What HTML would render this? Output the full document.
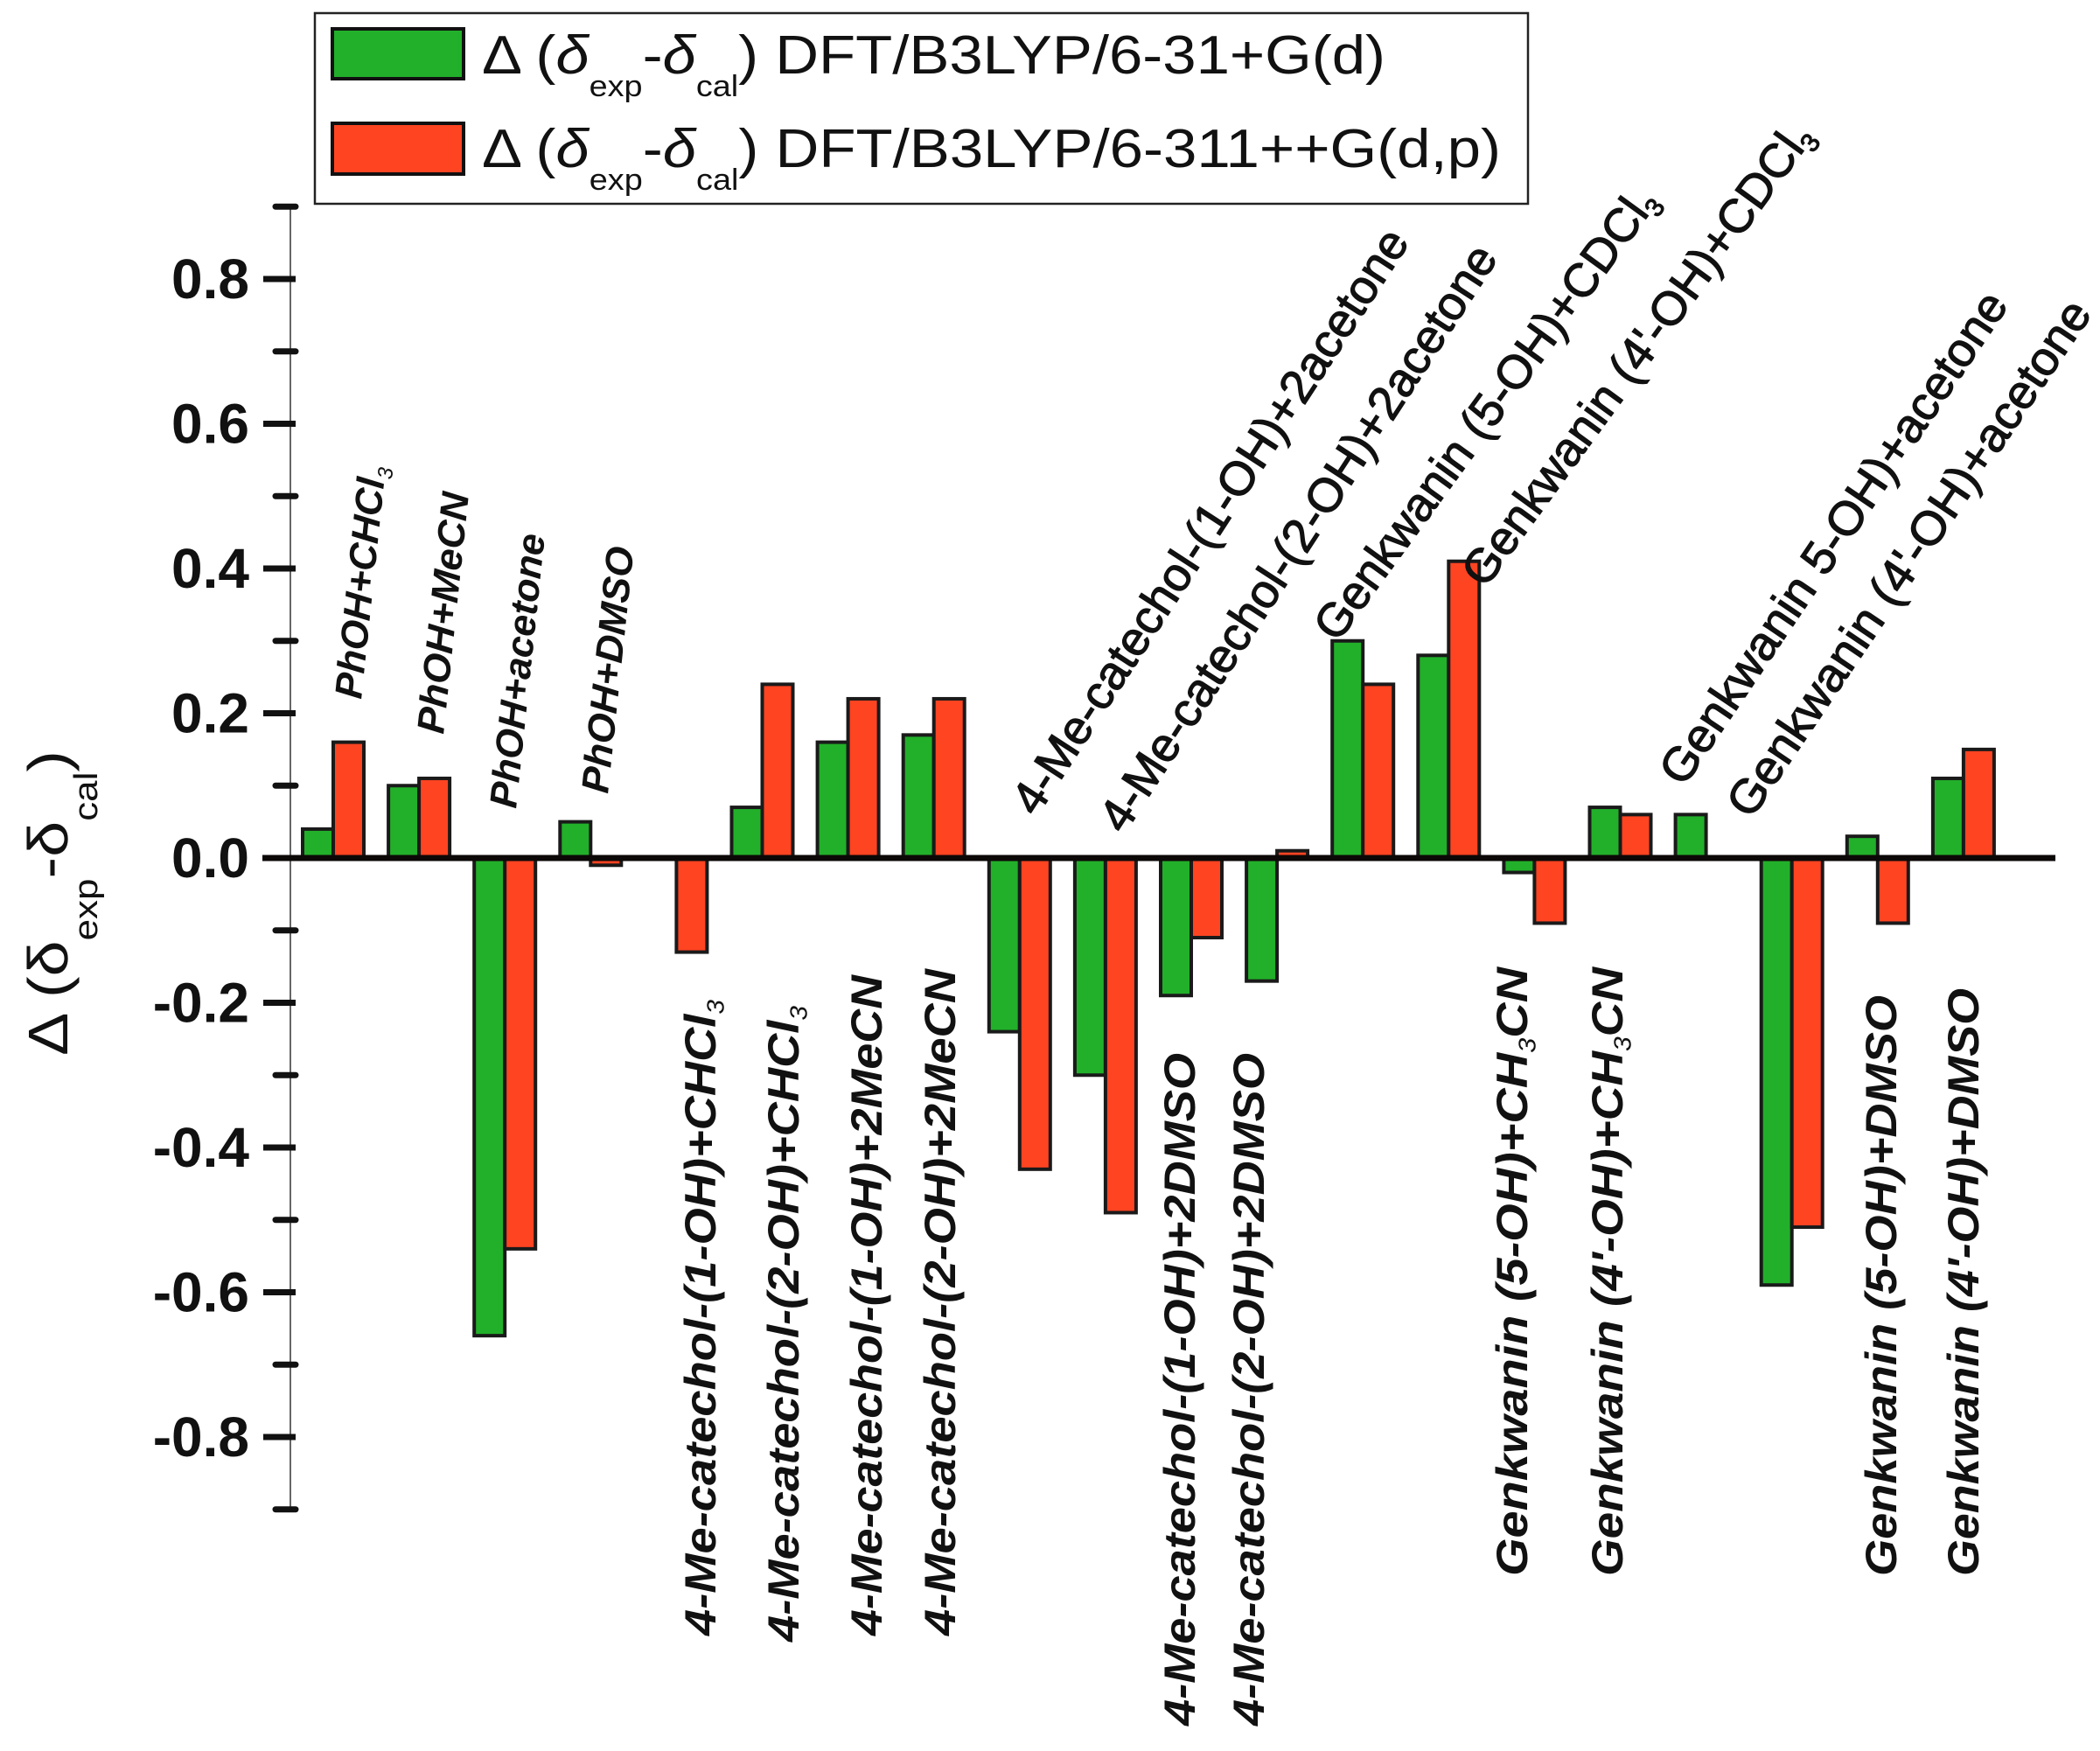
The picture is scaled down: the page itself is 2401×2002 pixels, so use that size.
<!DOCTYPE html>
<html><head><meta charset="utf-8">
<style>
html,body{margin:0;padding:0;background:#fff;}
svg{display:block;}
text{font-family:"Liberation Sans",Arial,sans-serif;}
</style></head>
<body>
<svg id="chart" width="2401" height="2002" viewBox="0 0 2401 2002" xmlns="http://www.w3.org/2000/svg">
  <g id="legend">
    <rect x="360" y="15" width="1387" height="218" fill="#fff" stroke="#222" stroke-width="2.5"/>
    <rect x="380" y="33" width="150" height="57" fill="#22b02a" stroke="#111" stroke-width="4"/>
    <rect x="380" y="141" width="150" height="58" fill="#ff4422" stroke="#111" stroke-width="4"/>
    <text x="551" y="84" font-size="62" fill="#111" textLength="1033" lengthAdjust="spacingAndGlyphs">Δ (<tspan font-style="italic">δ</tspan><tspan font-size="34" dy="26">exp</tspan><tspan dy="-26">-</tspan><tspan font-style="italic">δ</tspan><tspan font-size="34" dy="26">cal</tspan><tspan dy="-26">) DFT/B3LYP/6-31+G(d)</tspan></text>
    <text x="551" y="191" font-size="62" fill="#111" textLength="1165" lengthAdjust="spacingAndGlyphs">Δ (<tspan font-style="italic">δ</tspan><tspan font-size="34" dy="26">exp</tspan><tspan dy="-26">-</tspan><tspan font-style="italic">δ</tspan><tspan font-size="34" dy="26">cal</tspan><tspan dy="-26">) DFT/B3LYP/6-311++G(d,p)</tspan></text>
  </g>
  <text transform="translate(77,1207) rotate(-90)" font-size="64" fill="#111" textLength="349" lengthAdjust="spacingAndGlyphs">Δ (δ<tspan font-size="38" dy="34">exp</tspan><tspan dy="-34">-δ</tspan><tspan font-size="38" dy="34">cal</tspan><tspan dy="-34">)</tspan></text>
  <g id="axis"></g>
  <g id="bars"></g>
  <g id="labels"></g>
</svg>
<script>
// ---- data ----
const categories = [
  "PhOH+CHCl_3","PhOH+MeCN","PhOH+acetone","PhOH+DMSO",
  "4-Me-catechol-(1-OH)+CHCl_3","4-Me-catechol-(2-OH)+CHCl_3",
  "4-Me-catechol-(1-OH)+2MeCN","4-Me-catechol-(2-OH)+2MeCN",
  "4-Me-catechol-(1-OH)+2acetone","4-Me-catechol-(2-OH)+2acetone",
  "4-Me-catechol-(1-OH)+2DMSO","4-Me-catechol-(2-OH)+2DMSO",
  "Genkwanin (5-OH)+CDCl_3","Genkwanin (4'-OH)+CDCl_3",
  "Genkwanin (5-OH)+CH_3CN","Genkwanin (4'-OH)+CH_3CN",
  "Genkwanin 5-OH)+acetone","Genkwanin (4'-OH)+acetone",
  "Genkwanin (5-OH)+DMSO","Genkwanin (4'-OH)+DMSO"
];
const seriesB3lyp631 = [0.04,0.10,-0.66,0.05,0,0.07,0.16,0.17,-0.24,-0.30,-0.19,-0.17,0.30,0.28,-0.02,0.07,0.06,-0.59,0.03,0.11];
const seriesB3lyp6311 = [0.16,0.11,-0.54,-0.01,-0.13,0.24,0.22,0.22,-0.43,-0.49,-0.11,0.01,0.24,0.41,-0.09,0.06,0,-0.51,-0.09,0.15];
const majorTicks = [-0.8,-0.6,-0.4,-0.2,0.0,0.2,0.4,0.6,0.8];
const majorTickLabels = ["-0.8","-0.6","-0.4","-0.2","0.0","0.2","0.4","0.6","0.8"];
const minorTicks = [-0.9,-0.7,-0.5,-0.3,-0.1,0.1,0.3,0.5,0.7,0.9];

// ---- layout (not data) ----
const labelKind = ["top","top","top","top","bot","bot","bot","bot","ang","ang","bot","bot","ang","ang","bot","bot","ang","ang","bot","bot"];
const labelX = [413,507,590,695,818,913,1008,1092,1185,1285,1366,1445,1529,1698,1746,1855,1925,2002,2168,2262];
const labelY = [800,840,925,908,1870,1877,1870,1870,935,955,1973,1973,736,674,1802,1802,901,938,1802,1802];
const labelAngle = [-84,-84,-84,-84,-90,-90,-90,-90,-57,-57,-90,-90,-54,-54,-90,-90,-56,-56,-90,-90];
const labelLen = [267,277,315,283,727,727,755,762,785,787,769,769,625,640,696,696,666,699,664,672];

const NS="http://www.w3.org/2000/svg";
const zeroY=981, unitPx=827.5, firstCenter=381, groupStep=98.1, barW=35;
const yScale = v => zeroY - v*unitPx;
const xScale = i => firstCenter + i*groupStep;
function mk(tag, attrs, parent){const e=document.createElementNS(NS,tag);for(const k in attrs)e.setAttribute(k,attrs[k]);parent.appendChild(e);return e;}

const axis=document.getElementById('axis');
const al=mk('line',{x1:332,y1:yScale(0.9),x2:332,y2:yScale(-0.9),stroke:'#666','stroke-width':2},axis);


minorTicks.forEach(v=>{
  const t=mk('line',{x1:315,x2:338,y1:yScale(v),y2:yScale(v),stroke:'#111','stroke-width':7,'stroke-linecap':'round'},axis);
  
  
});
majorTicks.forEach((v,i)=>{
  const t=mk('line',{x1:301,x2:338,y1:yScale(v),y2:yScale(v),stroke:'#111','stroke-width':7},axis);
  
  
  const l=mk('text',{x:285,y:yScale(v)+22,'text-anchor':'end','font-size':64,'font-weight':'bold',fill:'#111'},axis);
  l.textContent=majorTickLabels[i];
  
  
});

const bars=document.getElementById('bars');
function drawBar(i,v,isGreen){
  if(v===0) return;
  const c=xScale(i);
  const x=isGreen?c-barW:c;
  const y0=yScale(Math.max(v,0)), y1=yScale(Math.min(v,0));
  const r=mk('rect',{x:x,y:y0,width:barW,height:y1-y0,fill:isGreen?'#22b02a':'#ff4422',stroke:'#1a1a1a','stroke-width':4},bars);
  
  
}
categories.forEach((c,i)=>{drawBar(i,seriesB3lyp631[i],true);drawBar(i,seriesB3lyp6311[i],false);});
const zl=mk('line',{x1:300,x2:2350,y1:zeroY,y2:zeroY,stroke:'#0d0808','stroke-width':7},bars);



const labels=document.getElementById('labels');
categories.forEach((c,i)=>{
  const kind=labelKind[i];
  const t=mk('text',{transform:`translate(${labelX[i]},${labelY[i]}) rotate(${labelAngle[i]})`,
    'font-size':kind==='top'?44:(kind==='ang'?54:50), fill:'#111',
    'font-weight':kind==='ang'?'normal':'bold',
    'font-style':kind==='ang'?'normal':'italic',
    stroke:kind==='ang'?'#111':'none','stroke-width':kind==='ang'?1.2:0,
    textLength:labelLen[i], lengthAdjust:'spacingAndGlyphs'},labels);
  
  
  const parts=c.split('_');
  const a=mk('tspan',{},t); a.textContent=parts[0];
  if(parts.length>1){
    const s=mk('tspan',{'font-size':'0.55em',dy:'0.35em','font-weight':'normal'},t); s.textContent=parts[1][0];
    const rest=parts[1].slice(1);
    const r=mk('tspan',{dy:'-0.19em'},t); r.textContent=rest.length?rest:'\u200b';
  }
});
</script>
</body></html>
